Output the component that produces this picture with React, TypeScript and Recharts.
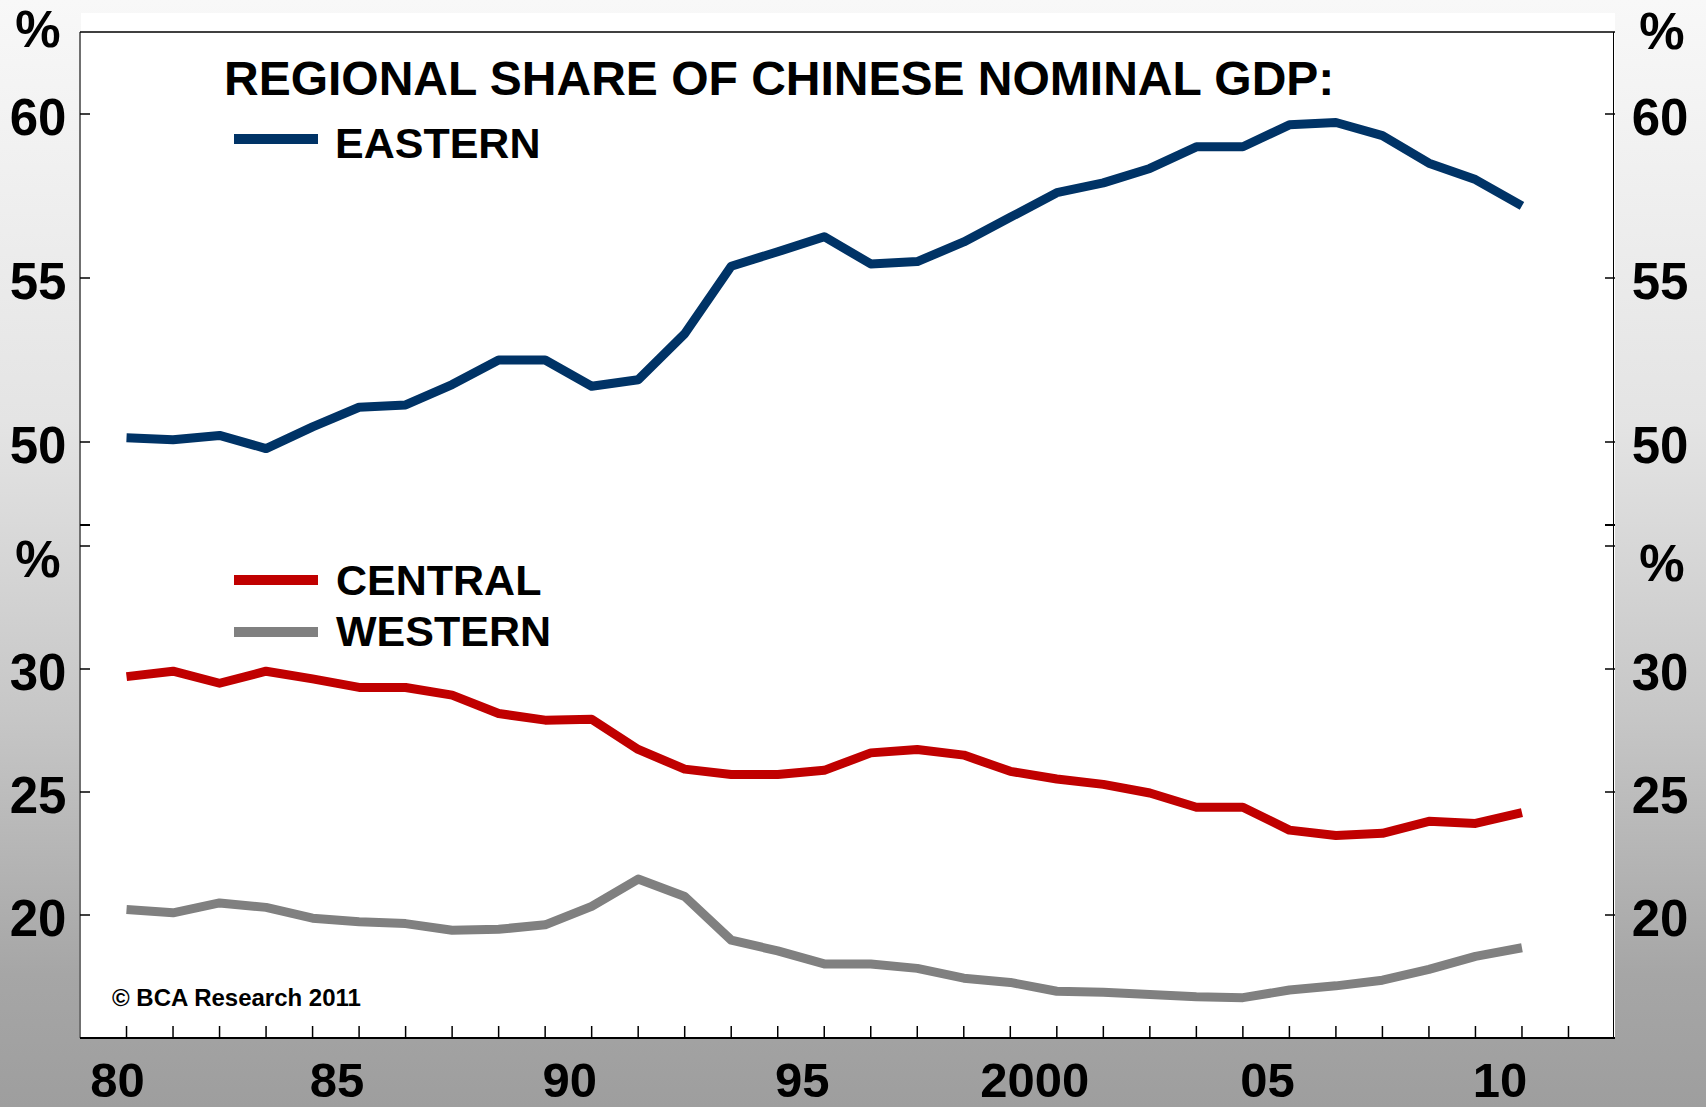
import React from 'react'
import { LineChart, Line, XAxis, YAxis, ReferenceLine } from 'recharts'

const years = [
  1980, 1981, 1982, 1983, 1984, 1985, 1986, 1987, 1988, 1989,
  1990, 1991, 1992, 1993, 1994, 1995, 1996, 1997, 1998, 1999,
  2000, 2001, 2002, 2003, 2004, 2005, 2006, 2007, 2008, 2009, 2010,
]
const eastern = [
  50.13, 50.07, 50.2, 49.8, 50.46, 51.06, 51.13, 51.75, 52.5, 52.5,
  51.7, 51.9, 53.3, 55.36, 55.8, 56.26, 55.43, 55.5, 56.1, 56.85,
  57.6, 57.9, 58.34, 59.0, 59.0, 59.67, 59.74, 59.34, 58.5, 58.0, 57.2,
]
const central = [
  29.69, 29.91, 29.42, 29.91, 29.6, 29.25, 29.25, 28.94, 28.19, 27.92,
  27.96, 26.73, 25.93, 25.71, 25.71, 25.88, 26.59, 26.73, 26.5, 25.84,
  25.53, 25.31, 24.96, 24.38, 24.38, 23.45, 23.23, 23.32, 23.81, 23.72, 24.16,
]
const western = [
  20.22, 20.09, 20.49, 20.31, 19.87, 19.73, 19.65, 19.38, 19.42, 19.6,
  20.35, 21.46, 20.75, 18.98, 18.54, 18.01, 18.01, 17.83, 17.43, 17.26,
  16.9, 16.86, 16.77, 16.68, 16.64, 16.95, 17.12, 17.35, 17.79, 18.32, 18.67,
]

const xTickYears = [
  1980, 1981, 1982, 1983, 1984, 1985, 1986, 1987, 1988, 1989, 1990,
  1991, 1992, 1993, 1994, 1995, 1996, 1997, 1998, 1999, 2000, 2001,
  2002, 2003, 2004, 2005, 2006, 2007, 2008, 2009, 2010, 2011,
]
const xLabels: Record<number, string> = {
  1980: '80', 1985: '85', 1990: '90', 1995: '95', 2000: '2000', 2005: '05', 2010: '10',
}
const upperTicks = [50, 55, 60]
const lowerTicks = [20, 25, 30]

const topData = years.map((year, i) => ({ year, eastern: eastern[i] }))
const bottomData = years.map((year, i) => ({ year, central: central[i], western: western[i] }))

const FONT = "'Liberation Sans', Arial, Helvetica, sans-serif"
const EAST_COLOR = '#003366'
const CENTRAL_COLOR = '#c00000'
const WEST_COLOR = '#808080'

const LeftTick = (p: any) => (
  <g>
    <line x1={p.x} x2={p.x + 10} y1={p.y} y2={p.y} stroke="#000" strokeWidth={1.5} />
    <text x={p.x - 42} y={p.y + 21} textAnchor="middle" fontFamily={FONT} fontWeight="bold" fontSize={51} fill="#000">
      {p.payload.value}
    </text>
  </g>
)

const RightTick = (p: any) => (
  <g>
    <line x1={p.x - 10} x2={p.x} y1={p.y} y2={p.y} stroke="#000" strokeWidth={1.5} />
    <text x={p.x + 45} y={p.y + 21} textAnchor="middle" fontFamily={FONT} fontWeight="bold" fontSize={51} fill="#000">
      {p.payload.value}
    </text>
  </g>
)

const XTick = (p: any) => {
  const v = p.payload.value as number
  const label = xLabels[v]
  return (
    <g>
      <line x1={p.x} x2={p.x} y1={p.y} y2={p.y - 12} stroke="#000" strokeWidth={1.5} />
      {label && (
        <text x={p.x + (v === 1980 ? -9 : -22)} y={p.y + 59} textAnchor="middle" fontFamily={FONT} fontWeight="bold" fontSize={49} fill="#000">
          {label}
        </text>
      )}
    </g>
  )
}

const pct: React.CSSProperties = {
  position: 'absolute', fontFamily: FONT, fontWeight: 'bold', fontSize: 51, lineHeight: '51px',
  width: 60, textAlign: 'center', color: '#000',
}

const legendText: React.CSSProperties = {
  position: 'absolute', fontFamily: FONT, fontWeight: 'bold', fontSize: 43, lineHeight: '43px', color: '#000',
  whiteSpace: 'nowrap',
}

const swatch = (color: string, top: number): React.CSSProperties => ({
  position: 'absolute', left: 234, top, width: 84, height: 10, background: color,
})

export default function App() {
  return (
    <div
      style={{
        position: 'absolute', left: 0, top: 0, width: 1706, height: 1107, overflow: 'hidden',
        background: 'linear-gradient(to bottom, #f8f8f8 0%, #e4e4e4 38%, #c6c6c6 65%, #a6a6a6 88%, #9e9e9e 100%)',
      }}
    >
      <div style={{ position: 'absolute', left: 81, top: 13, width: 1534, height: 1025, background: '#fff' }} />
      <div
        style={{
          position: 'absolute', left: 79, top: 32, width: 1535, height: 1006,
          borderLeft: '2px solid #707070', borderRight: '1.5px solid #000', boxSizing: 'border-box',
        }}
      />

      <div style={{ position: 'absolute', left: 0, top: 0 }}>
        <LineChart width={1706} height={560} data={topData} margin={{ top: 32, right: 0, bottom: 36, left: 0 }}>
          <XAxis dataKey="year" type="number" domain={[1979, 2012]} allowDataOverflow hide />
          <YAxis yAxisId="l" orientation="left" width={80} domain={[47.5, 62.5]} allowDataOverflow ticks={upperTicks}
            axisLine={false} tickLine={false} tickSize={0} tickMargin={0} interval={0} tick={LeftTick} />
          <YAxis yAxisId="r" orientation="right" width={91} domain={[47.5, 62.5]} allowDataOverflow ticks={upperTicks}
            axisLine={false} tickLine={false} tickSize={0} tickMargin={0} interval={0} tick={RightTick} />
          <ReferenceLine yAxisId="l" y={62.5} stroke="#000" strokeWidth={1.5} />
          <Line yAxisId="l" type="linear" dataKey="eastern" stroke={EAST_COLOR} strokeWidth={9} dot={false}
            strokeLinejoin="round" isAnimationActive={false} />
        </LineChart>
      </div>

      <div style={{ position: 'absolute', left: 0, top: 530 }}>
        <LineChart width={1706} height={577} data={bottomData} margin={{ top: 16, right: 0, bottom: 0, left: 0 }}>
          <XAxis dataKey="year" type="number" domain={[1979, 2012]} allowDataOverflow ticks={xTickYears} interval={0}
            height={69} axisLine={{ stroke: '#000', strokeWidth: 2 }} tickLine={false} tickSize={0} tickMargin={0} tick={XTick} />
          <YAxis yAxisId="l" orientation="left" width={80} domain={[15, 35]} allowDataOverflow ticks={[...lowerTicks, 35]}
            axisLine={false} tickLine={false} tickSize={0} tickMargin={0} interval={0}
            tick={(p: any) => (p.payload.value === 35
              ? <line x1={p.x} x2={p.x + 10} y1={p.y} y2={p.y} stroke="#000" strokeWidth={1.5} />
              : <LeftTick {...p} />)} />
          <YAxis yAxisId="r" orientation="right" width={91} domain={[15, 35]} allowDataOverflow ticks={[...lowerTicks, 35]}
            axisLine={false} tickLine={false} tickSize={0} tickMargin={0} interval={0}
            tick={(p: any) => (p.payload.value === 35
              ? <line x1={p.x - 10} x2={p.x} y1={p.y} y2={p.y} stroke="#000" strokeWidth={1.5} />
              : <RightTick {...p} />)} />
          <Line yAxisId="l" type="linear" dataKey="western" stroke={WEST_COLOR} strokeWidth={9} dot={false}
            strokeLinejoin="round" isAnimationActive={false} />
          <Line yAxisId="l" type="linear" dataKey="central" stroke={CENTRAL_COLOR} strokeWidth={9} dot={false}
            strokeLinejoin="round" isAnimationActive={false} />
        </LineChart>
      </div>

      {/* bottom tick of the upper panel */}
      <div style={{ position: 'absolute', left: 80, top: 524, width: 10, height: 1.5, background: '#000' }} />
      <div style={{ position: 'absolute', left: 1605, top: 524, width: 10, height: 1.5, background: '#000' }} />

      <div style={{ ...pct, left: 8, top: 4 }}>%</div>
      <div style={{ ...pct, left: 1632, top: 6 }}>%</div>
      <div style={{ ...pct, left: 8, top: 534 }}>%</div>
      <div style={{ ...pct, left: 1632, top: 538 }}>%</div>

      <div style={{ position: 'absolute', left: 224, top: 55, fontFamily: FONT, fontWeight: 'bold', fontSize: 48, lineHeight: '48px', color: '#000', whiteSpace: 'nowrap' }}>
        REGIONAL SHARE OF CHINESE NOMINAL GDP:
      </div>

      <div style={swatch(EAST_COLOR, 134)} />
      <div style={{ ...legendText, left: 335, top: 122 }}>EASTERN</div>
      <div style={swatch(CENTRAL_COLOR, 575)} />
      <div style={{ ...legendText, left: 336, top: 559 }}>CENTRAL</div>
      <div style={swatch(WEST_COLOR, 627)} />
      <div style={{ ...legendText, left: 336, top: 610 }}>WESTERN</div>

      <div style={{ position: 'absolute', left: 112, top: 986, fontFamily: FONT, fontWeight: 'bold', fontSize: 24, lineHeight: '24px', color: '#000', whiteSpace: 'nowrap' }}>
        © BCA Research 2011
      </div>
    </div>
  )
}
